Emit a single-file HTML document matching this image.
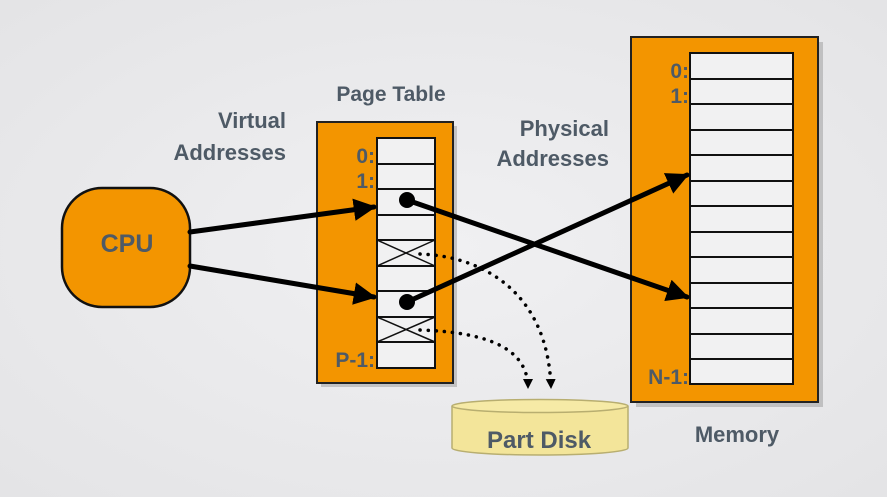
<!DOCTYPE html>
<html><head><meta charset="utf-8"><style>
html,body{margin:0;padding:0;background:#ebebed;}
svg{display:block}
text{font-family:"Liberation Sans",sans-serif;font-weight:bold;fill:#4e5a66}
</style></head><body>
<svg width="887" height="497" viewBox="0 0 887 497" xmlns="http://www.w3.org/2000/svg">
<defs>
<radialGradient id="bg" cx="50%" cy="50%" r="70%"><stop offset="0" stop-color="#f0f0f2"/><stop offset="1" stop-color="#e4e4e6"/></radialGradient>
<marker id="ah" viewBox="0 0 10 10" refX="9" refY="5" markerWidth="4.5" markerHeight="4.5" orient="auto" markerUnits="strokeWidth"><path d="M0,0 L10,5 L0,10 z" fill="#000"/></marker>
<marker id="ad" viewBox="0 0 10 10" refX="9" refY="5" markerWidth="10" markerHeight="10" orient="auto" markerUnits="userSpaceOnUse"><path d="M0,0 L10,5 L0,10 z" fill="#000"/></marker>
</defs>
<rect width="887" height="497" fill="url(#bg)"/>

<!-- CPU -->
<rect x="62" y="188" width="128" height="119" rx="40" fill="#f39500" stroke="#111" stroke-width="2.5"/>
<text x="127" y="252" font-size="25" text-anchor="middle">CPU</text>

<text x="286" y="128" font-size="22" text-anchor="end">Virtual</text>
<text x="286" y="160" font-size="22" text-anchor="end">Addresses</text>
<text x="391" y="101" font-size="21" text-anchor="middle">Page Table</text>
<text x="609" y="136" font-size="22" text-anchor="end">Physical</text>
<text x="609" y="166" font-size="22" text-anchor="end">Addresses</text>
<text x="737" y="442" font-size="22" text-anchor="middle">Memory</text>

<!-- page table -->
<rect x="321" y="126" width="136" height="261" fill="#999" opacity="0.5"/>
<rect x="317" y="122" width="136" height="261" fill="#f39500" stroke="#222" stroke-width="2"/>
<rect x="377" y="138" width="58" height="230" fill="#f1f1f2" stroke="#111" stroke-width="2"/>
<g stroke="#111" stroke-width="2">
<line x1="377" y1="164" x2="435" y2="164"/><line x1="377" y1="189" x2="435" y2="189"/>
<line x1="377" y1="215" x2="435" y2="215"/><line x1="377" y1="240" x2="435" y2="240"/>
<line x1="377" y1="266" x2="435" y2="266"/><line x1="377" y1="291" x2="435" y2="291"/>
<line x1="377" y1="317" x2="435" y2="317"/><line x1="377" y1="342" x2="435" y2="342"/>
</g>
<g stroke="#111" stroke-width="1.5">
<line x1="377" y1="240" x2="435" y2="266"/><line x1="377" y1="266" x2="435" y2="240"/>
<line x1="377" y1="317" x2="435" y2="342"/><line x1="377" y1="342" x2="435" y2="317"/>
</g>
<text x="375" y="163" font-size="21" text-anchor="end">0:</text>
<text x="375" y="188" font-size="21" text-anchor="end">1:</text>
<text x="375" y="367" font-size="21" text-anchor="end">P-1:</text>

<!-- memory -->
<rect x="636" y="42" width="187" height="365" fill="#999" opacity="0.5"/>
<rect x="631" y="37" width="187" height="365" fill="#f39500" stroke="#222" stroke-width="2"/>
<rect x="690" y="53" width="103" height="331" fill="#f1f1f2" stroke="#111" stroke-width="2"/>
<g stroke="#111" stroke-width="2">
<line x1="690" y1="79" x2="793" y2="79"/><line x1="690" y1="104" x2="793" y2="104"/>
<line x1="690" y1="130" x2="793" y2="130"/><line x1="690" y1="155" x2="793" y2="155"/>
<line x1="690" y1="181" x2="793" y2="181"/><line x1="690" y1="206" x2="793" y2="206"/>
<line x1="690" y1="232" x2="793" y2="232"/><line x1="690" y1="257" x2="793" y2="257"/>
<line x1="690" y1="283" x2="793" y2="283"/><line x1="690" y1="308" x2="793" y2="308"/>
<line x1="690" y1="334" x2="793" y2="334"/><line x1="690" y1="359" x2="793" y2="359"/>
</g>
<text x="689" y="78" font-size="21" text-anchor="end">0:</text>
<text x="689" y="103" font-size="21" text-anchor="end">1:</text>
<text x="689" y="384" font-size="21" text-anchor="end">N-1:</text>

<!-- disk -->
<path d="M452,406 L452,448 A88,7 0 0 0 628,448 L628,406" fill="#f3e59a" stroke="#b8ae70" stroke-width="1.5"/>
<ellipse cx="540" cy="406" rx="88" ry="6.5" fill="#f6eaa6" stroke="#b8ae70" stroke-width="1.5"/>
<text x="487" y="448" font-size="24">Part Disk</text>

<!-- arrows -->
<g stroke="#000" stroke-width="5" fill="none" stroke-linecap="round">
<line x1="190" y1="232" x2="374" y2="207" marker-end="url(#ah)"/>
<line x1="190" y1="266" x2="374" y2="297" marker-end="url(#ah)"/>
<line x1="407" y1="200" x2="687" y2="297" marker-end="url(#ah)"/>
<line x1="407" y1="302" x2="687" y2="175" marker-end="url(#ah)"/>
</g>
<circle cx="407" cy="200" r="8" fill="#000"/>
<circle cx="407" cy="302" r="8" fill="#000"/>

<g stroke="#000" stroke-width="3.5" fill="none" stroke-dasharray="0.1 8" stroke-linecap="round">
<path d="M420,254 C480,256 548,290 551,388" marker-end="url(#ad)"/>
<path d="M420,330 C480,332 528,345 528,388" marker-end="url(#ad)"/>
</g>
</svg>
</body></html>
